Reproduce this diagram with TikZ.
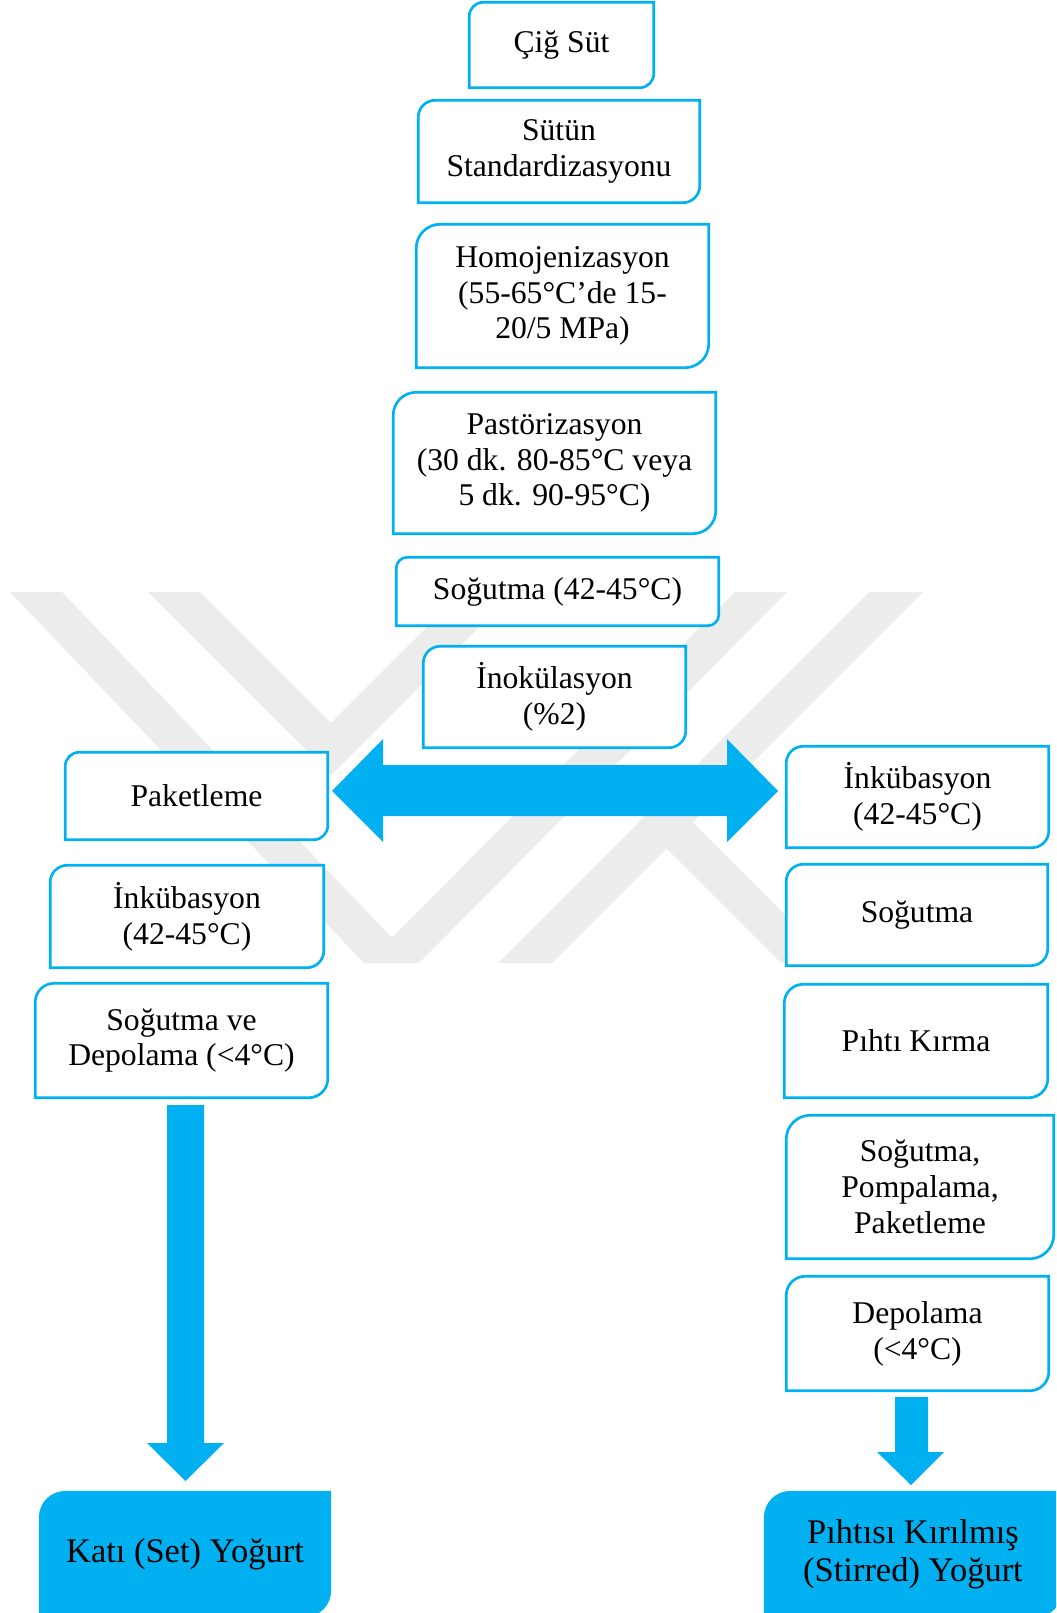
\documentclass[tikz,border=0pt]{standalone}
\usepackage{fontspec}
\setmainfont{Liberation Serif}
\usetikzlibrary{backgrounds}
\definecolor{yogmavi}{HTML}{00B0F0}
\definecolor{filigran}{HTML}{ECECEC}

\begin{document}
\begin{tikzpicture}[
    x=0.01cm,y=-0.01cm,
    adim/.style = {rectangle,inner sep=0pt,align=center,
                   font=\fontsize{9}{10.2}\selectfont},
    son/.style  = {rectangle,inner sep=0pt,align=center,
                   font=\fontsize{9.8}{10.9}\selectfont},
    cer/.style  = {draw=yogmavi,line width=0.75pt,fill=white},
    sonc/.style = {draw=yogmavi,line width=0.75pt,fill=yogmavi},
    ok/.style   = {fill=yogmavi},
    fil/.style  = {fill=filigran},
  ]
  \useasboundingbox (0,0) rectangle (1056,1613);

  % ortak adimlar
  \node[adim,minimum width=1.83cm,minimum height=0.84cm] (cig)  at (561.5,45)  {Çiğ Süt};
  \node[adim,minimum width=2.80cm,minimum height=1.01cm] (std)  at (559,151.5) {Sütün\\Standardizasyonu};
  \node[adim,minimum width=2.91cm,minimum height=1.42cm] (hom)  at (562.5,296) {Homojenizasyon\\(55-65°C’de 15-\\20/5 MPa)};
  \node[adim,minimum width=3.21cm,minimum height=1.40cm] (pas)  at (554.5,463) {Pastörizasyon\\(30 dk. 80-85°C veya\\5 dk. 90-95°C)};
  \node[adim,minimum width=3.21cm,minimum height=0.67cm] (sog)  at (557.5,591.5) {Soğutma (42-45°C)};
  \node[adim,minimum width=2.61cm,minimum height=1.00cm] (ino)  at (554.5,697) {İnokülasyon\\(\%2)};

  % sol kol: kati yogurt
  \node[adim,minimum width=2.61cm,minimum height=0.86cm] (pak)  at (196.5,796) {Paketleme};
  \node[adim,minimum width=2.72cm,minimum height=1.01cm] (inkl) at (187,916.5) {İnkübasyon\\(42-45°C)};
  \node[adim,minimum width=2.91cm,minimum height=1.13cm] (sdep) at (181.5,1040.5) {Soğutma ve\\Depolama (<4°C)};
  \node[son,minimum width=2.88cm,minimum height=1.22cm]  (kati) at (185,1554) {Katı (Set) Yoğurt};

  % sag kol: pihtisi kirilmis yogurt
  \node[adim,minimum width=2.61cm,minimum height=1.00cm] (inkr) at (917.5,797) {İnkübasyon\\(42-45°C)};
  \node[adim,minimum width=2.60cm,minimum height=1.00cm] (sogr) at (917,915) {Soğutma};
  \node[adim,minimum width=2.62cm,minimum height=1.12cm] (pkir) at (916,1041) {Pıhtı Kırma};
  \node[adim,minimum width=2.66cm,minimum height=1.42cm] (spp)  at (920,1187) {Soğutma,\\Pompalama,\\Paketleme};
  \node[adim,minimum width=2.61cm,minimum height=1.13cm] (dep)  at (917.5,1333.5) {Depolama\\(<4°C)};
  \node[son,minimum width=2.94cm,minimum height=1.22cm]  (piht) at (913,1554) {Pıhtısı Kırılmış\\(Stirred) Yoğurt};

  \begin{scope}[on background layer]
    % filigran
    \begin{scope}
      \clip (0,592) rectangle (1056,963);
      \fill[fil] (10,592) -- (62,592) -- (416,963) -- (364,963) -- cycle;
      \fill[fil] (735,592) -- (787,592) -- (419,963) -- (367,963) -- cycle;
      \fill[fil] (148,592) -- (200,592) -- (331,723) -- (462,592) -- (514,592) -- (331,775) -- cycle;
      \fill[fil] (869,592) -- (923,592) -- (552,963) -- (498,963) -- cycle;
      \fill[fil] (638,820) -- (690,820) -- (833,963) -- (781,963) -- cycle;
    \end{scope}
    % kutu cerceveleri
    \begin{scope}
      \clip (0,0) rectangle (1056,1613);
      \foreach \n/\r in {cig/1.4mm,std/1.7mm,hom/2.4mm,pas/2.3mm,sog/1.1mm,ino/1.7mm,
                         pak/1.4mm,inkl/1.7mm,sdep/1.9mm,inkr/1.7mm,sogr/1.7mm,
                         pkir/1.9mm,spp/2.4mm,dep/1.9mm}
        \draw[cer] ([yshift=-\r]\n.north west) arc[start angle=180,end angle=90,radius=\r]
          -- (\n.north east) -- ([yshift=\r]\n.south east)
          arc[start angle=0,end angle=-90,radius=\r] -- (\n.south west) -- cycle;
      \foreach \n in {kati,piht}
        \draw[sonc] ([yshift=-2.5mm]\n.north west) arc[start angle=180,end angle=90,radius=2.5mm]
          -- (\n.north east) -- ([yshift=2.5mm]\n.south east)
          arc[start angle=0,end angle=-90,radius=2.5mm] -- (\n.south west) -- cycle;
    \end{scope}
  \end{scope}

  % blok oklar
  \fill[ok] (332,791) -- (383,739) -- (383,765) -- (727,765) -- (727,739) -- (778,791)
            -- (727,842) -- (727,816) -- (383,816) -- (383,842) -- cycle;
  \fill[ok] (167,1105) -- (204,1105) -- (204,1443) -- (224,1443) -- (185.5,1481)
            -- (147,1443) -- (167,1443) -- cycle;
  \fill[ok] (895,1397) -- (928,1397) -- (928,1452) -- (944,1452) -- (911,1485)
            -- (877,1452) -- (895,1452) -- cycle;

\end{tikzpicture}
\end{document}
